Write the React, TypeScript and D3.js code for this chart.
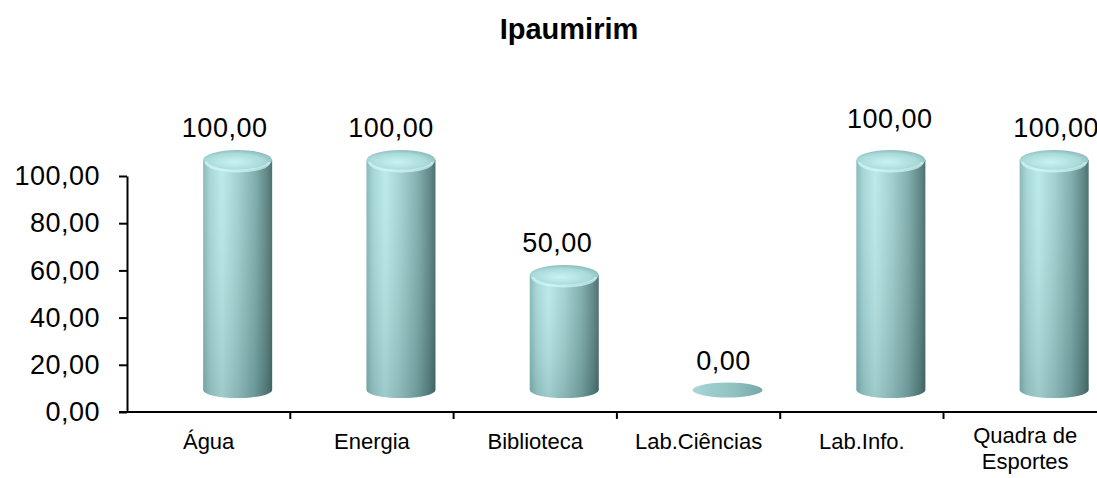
import * as d3 from "d3";
import { useEffect, useRef } from "react";

const title = "Ipaumirim";
const categories = ["Água", "Energia", "Biblioteca", "Lab.Ciências", "Lab.Info.", "Quadra de Esportes"];
const values = [100, 100, 50, 0, 100, 100];
const yTicks = [0, 20, 40, 60, 80, 100];
// Excel nudged one data label a little higher
const labelNudge = [0, 0, 0, 0, -9, 0];

const App = () => {
  const ref = useRef<SVGSVGElement | null>(null);

  useEffect(() => {
    const svg = d3.select(ref.current);
    svg.selectAll("*").remove();

    const width = 1097;
    const height = 478;
    svg.attr("width", width).attr("height", height);

    const font = "'Liberation Sans', Arial, sans-serif";
    const left = 127;
    const band = 163.3;

    const x = d3
      .scaleBand()
      .domain(categories)
      .range([left, left + band * categories.length])
      .padding(0);

    const y = d3.scaleLinear().domain([0, 100]).range([412, 176]);
    // projected scale of the 3D floor / back wall used by the cylinders
    const yBar = d3.scaleLinear().domain([0, 100]).range([390, 160]);
    const depthX = 29;

    const loc = d3.formatLocale({
      decimal: ",",
      thousands: ".",
      grouping: [3],
      currency: ["R$", ""],
    });
    const fmt = loc.format(".2f");

    // gradients
    const defs = svg.append("defs");
    const body = defs
      .append("linearGradient")
      .attr("id", "cylBody")
      .attr("x1", "0")
      .attr("x2", "1")
      .attr("y1", "0")
      .attr("y2", "0");
    [
      [0, "#84b6b6"],
      [0.1, "#a3d5d5"],
      [0.27, "#b9e9e9"],
      [0.5, "#9fcfcf"],
      [0.75, "#7baaaa"],
      [0.92, "#5a8282"],
      [1, "#456868"],
    ].forEach(([o, c]) =>
      body.append("stop").attr("offset", o as number).attr("stop-color", c as string)
    );

    const shade = defs
      .append("linearGradient")
      .attr("id", "cylShade")
      .attr("x1", "0")
      .attr("x2", "0")
      .attr("y1", "0")
      .attr("y2", "1");
    shade.append("stop").attr("offset", 0).attr("stop-color", "#ffffff").attr("stop-opacity", 0.05);
    shade.append("stop").attr("offset", 1).attr("stop-color", "#1f3d3d").attr("stop-opacity", 0.18);

    const cap = defs
      .append("radialGradient")
      .attr("id", "cylCap")
      .attr("cx", "0.45")
      .attr("cy", "0.6")
      .attr("r", "0.6");
    cap.append("stop").attr("offset", 0).attr("stop-color", "#c9f3f3");
    cap.append("stop").attr("offset", 0.7).attr("stop-color", "#aadada");
    cap.append("stop").attr("offset", 1).attr("stop-color", "#8cbcbc");

    const flat = defs
      .append("linearGradient")
      .attr("id", "flatCap")
      .attr("x1", "0")
      .attr("x2", "1");
    flat.append("stop").attr("offset", 0).attr("stop-color", "#a8d6d6");
    flat.append("stop").attr("offset", 0.6).attr("stop-color", "#90c0c0");
    flat.append("stop").attr("offset", 1).attr("stop-color", "#78a6a6");

    // title
    svg
      .append("text")
      .attr("x", 569)
      .attr("y", 39)
      .attr("text-anchor", "middle")
      .style("font-family", font)
      .style("font-size", "29px")
      .style("font-weight", "bold")
      .text(title);

    // y axis
    const yAxis = svg
      .append("g")
      .attr("transform", `translate(${left},0)`)
      .call(
        d3
          .axisLeft(y)
          .tickValues(yTicks)
          .tickSize(8)
          .tickSizeOuter(0)
          .tickPadding(19)
          .tickFormat((d) => fmt(d as number))
      );
    yAxis.select(".domain").attr("stroke", "#000").attr("stroke-width", 2);
    yAxis.selectAll(".tick line").attr("stroke", "#000").attr("stroke-width", 2);
    yAxis
      .selectAll(".tick text")
      .style("font-family", font)
      .style("font-size", "27px")
      .style("letter-spacing", "0.5px")
      .attr("fill", "#000");

    // x axis
    const x0 = y(0);
    svg
      .append("line")
      .attr("x1", left - 8)
      .attr("x2", width)
      .attr("y1", x0)
      .attr("y2", x0)
      .attr("stroke", "#000")
      .attr("stroke-width", 2);
    svg
      .append("g")
      .selectAll("line")
      .data(categories.slice(1))
      .enter()
      .append("line")
      .attr("x1", (d) => x(d) ?? 0)
      .attr("x2", (d) => x(d) ?? 0)
      .attr("y1", x0)
      .attr("y2", x0 + 7)
      .attr("stroke", "#000")
      .attr("stroke-width", 2);

    // category labels
    const cat = svg
      .append("g")
      .selectAll("text")
      .data(categories)
      .enter()
      .append("text")
      .attr("text-anchor", "middle")
      .style("font-family", font)
      .style("font-size", "22px")
      .attr("fill", "#000");
    cat.each(function (d) {
      const cx = (x(d) ?? 0) + x.bandwidth() / 2;
      const words = d.split(" ");
      const lines =
        words.length > 2 ? [words.slice(0, 2).join(" "), words.slice(2).join(" ")] : [d];
      const t = d3.select(this);
      const startY = lines.length > 1 ? 443 : 449;
      lines.forEach((l, i) => {
        t.append("tspan")
          .attr("x", cx)
          .attr("y", startY + i * 26)
          .text(l);
      });
    });

    // cylinders
    const rx = 34.5;
    const ryTop = 10;
    const ryBot = 8;
    const base = yBar(0);
    const bars = svg.append("g");

    categories.forEach((c, i) => {
      const v = values[i];
      const cx = (x(c) ?? 0) + x.bandwidth() / 2 + depthX;
      const top = yBar(v);
      const g = bars.append("g");
      if (v > 0) {
        const p = `M${cx - rx},${top} L${cx - rx},${base} A${rx},${ryBot} 0 0 0 ${cx + rx},${base} L${cx + rx},${top} Z`;
        g.append("path").attr("d", p).attr("fill", "url(#cylBody)");
        g.append("path").attr("d", p).attr("fill", "url(#cylShade)");
        g.append("ellipse")
          .attr("cx", cx)
          .attr("cy", top)
          .attr("rx", rx)
          .attr("ry", ryTop)
          .attr("fill", "url(#cylCap)");
        // bright front rim of the rounded cap
        g.append("path")
          .attr(
            "d",
            `M${cx - rx + 3},${top + 2} A${rx - 3},${ryTop - 1} 0 0 0 ${cx + rx - 3},${top + 2}`
          )
          .attr("fill", "none")
          .attr("stroke", "#d4f8f8")
          .attr("stroke-opacity", 0.7)
          .attr("stroke-width", 3);
      } else {
        g.append("ellipse")
          .attr("cx", cx)
          .attr("cy", base)
          .attr("rx", rx + 0.5)
          .attr("ry", 7.5)
          .attr("fill", "url(#flatCap)");
      }

      // value label
      const topEdge = v > 0 ? top - ryTop : base - 7.5;
      svg
        .append("text")
        .attr("x", (x(c) ?? 0) + x.bandwidth() / 2 + 16 + 3 * i)
        .attr("y", topEdge - 13 + labelNudge[i])
        .attr("text-anchor", "middle")
        .style("font-family", font)
        .style("font-size", "27px")
        .style("letter-spacing", "0.5px")
        .attr("fill", "#000")
        .text(fmt(v));
    });
  }, []);

  return (
    <svg
      ref={ref}
      style={{ position: "absolute", left: 0, top: 0, background: "#fff" }}
    ></svg>
  );
};

export default App;
